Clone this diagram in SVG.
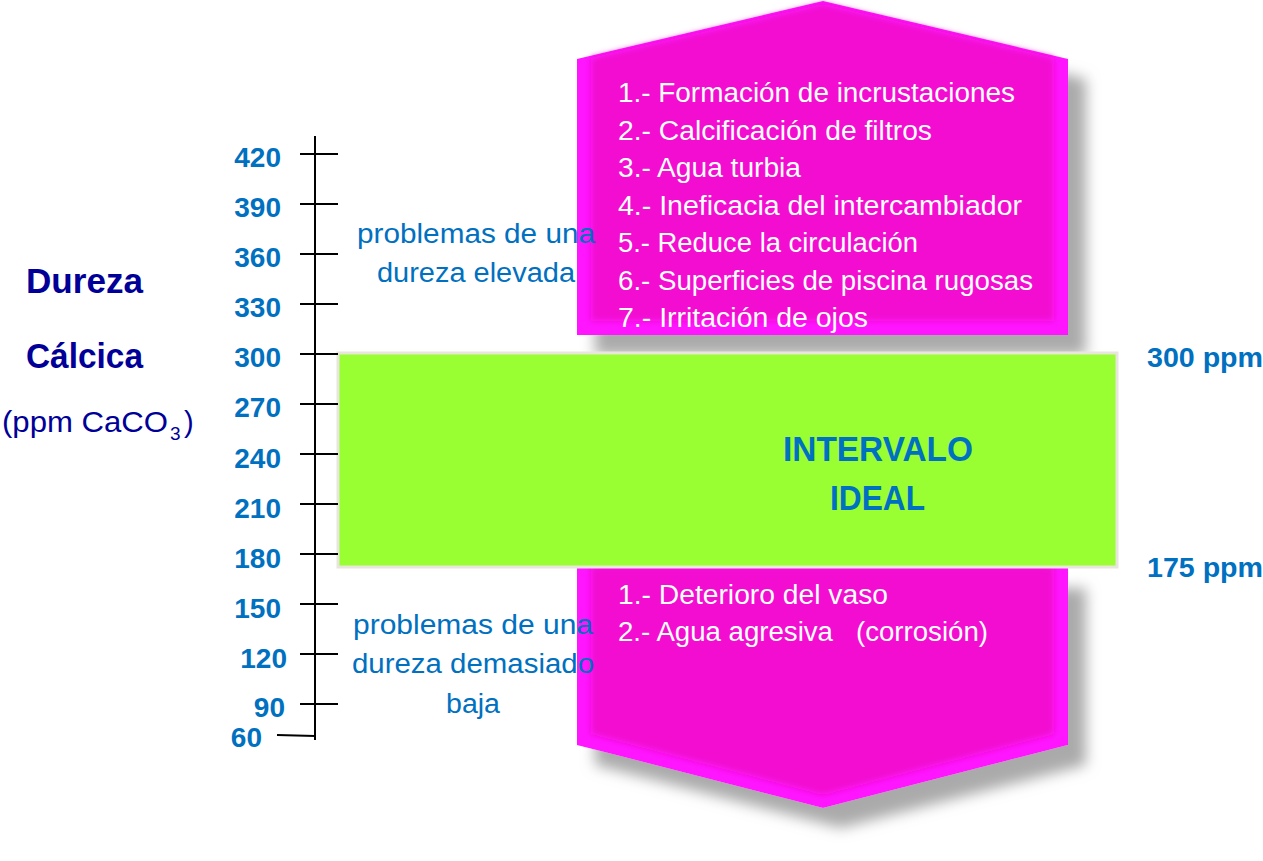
<svg xmlns="http://www.w3.org/2000/svg" width="1263" height="861" viewBox="0 0 1263 861">
<defs>
<filter id="shadow" x="-10%" y="-10%" width="130%" height="150%">
<feDropShadow dx="18" dy="20" stdDeviation="7" flood-color="#aaaaaa" flood-opacity="1"/>
</filter>
<filter id="soft" x="-5%" y="-5%" width="110%" height="110%">
<feGaussianBlur stdDeviation="3"/>
</filter>
<style>
.tick{stroke:#000;stroke-width:2;fill:none}
.num{font-family:"Liberation Sans",Arial,sans-serif;font-weight:bold;font-size:28px;fill:#0070c0;text-anchor:end}
.ppm{font-family:"Liberation Sans",Arial,sans-serif;font-weight:bold;font-size:28px;fill:#0070c0}
.title{font-family:"Liberation Sans",Arial,sans-serif;font-weight:bold;font-size:35px;fill:#000099}
.unit{font-family:"Liberation Sans",Arial,sans-serif;font-size:29px;fill:#000099}
.prob{font-family:"Liberation Sans",Arial,sans-serif;font-size:27px;fill:#0070c0}
.item{font-family:"Liberation Sans",Arial,sans-serif;font-size:27px;fill:#ffffff;white-space:pre}
.big{font-family:"Liberation Sans",Arial,sans-serif;font-weight:bold;font-size:35px;fill:#0070c0}
.bevel{fill:#ff14ff}
.face{fill:#f30fd1}
</style>
</defs>
<rect width="1263" height="861" fill="#ffffff"/>

<g id="high-block">
<g filter="url(#shadow)">
<polygon class="bevel" points="577,59 823,1 1068,59 1068,335 577,335"/>
</g>
<polygon class="face" filter="url(#soft)" points="591,58 823,4 1054,58 1054,321 591,321"/>
<text class="item" x="618" y="102" textLength="397" lengthAdjust="spacingAndGlyphs">1.- Formación de incrustaciones</text>
<text class="item" x="618" y="139.5" textLength="314" lengthAdjust="spacingAndGlyphs">2.- Calcificación de filtros</text>
<text class="item" x="618" y="177" textLength="183" lengthAdjust="spacingAndGlyphs">3.- Agua turbia</text>
<text class="item" x="618" y="214.5" textLength="404" lengthAdjust="spacingAndGlyphs">4.- Ineficacia del intercambiador</text>
<text class="item" x="618" y="252" textLength="300" lengthAdjust="spacingAndGlyphs">5.- Reduce la circulación</text>
<text class="item" x="618" y="289.5" textLength="415" lengthAdjust="spacingAndGlyphs">6.- Superficies de piscina rugosas</text>
<text class="item" x="618" y="327" textLength="250" lengthAdjust="spacingAndGlyphs">7.- Irritación de ojos</text>
</g>

<g id="low-block">
<g filter="url(#shadow)">
<polygon class="bevel" points="577,568 1068,568 1068,745 823,808 577,745"/>
</g>
<polygon class="face" filter="url(#soft)" points="591,566 1054,566 1054,734 823,795 591,734"/>
<text class="item" x="618" y="604" textLength="270" lengthAdjust="spacingAndGlyphs">1.- Deterioro del vaso</text>
<text class="item" x="618" y="641" textLength="370" lengthAdjust="spacingAndGlyphs" xml:space="preserve">2.- Agua agresiva   (corrosión)</text>
</g>

<g id="ideal-range">
<rect x="338" y="353" width="779" height="214" fill="#99ff33" stroke="#e8e5dc" stroke-width="3"/>
<text class="big" x="783" y="461" textLength="190" lengthAdjust="spacingAndGlyphs">INTERVALO</text>
<text class="big" x="830" y="510" textLength="95" lengthAdjust="spacingAndGlyphs">IDEAL</text>
</g>

<g id="axis">
<line class="tick" x1="315" y1="136" x2="315" y2="740"/>
<line class="tick" x1="300" y1="154" x2="338" y2="154"/>
<line class="tick" x1="300" y1="204" x2="338" y2="204"/>
<line class="tick" x1="300" y1="254" x2="338" y2="254"/>
<line class="tick" x1="300" y1="304" x2="338" y2="304"/>
<line class="tick" x1="300" y1="354" x2="338" y2="354"/>
<line class="tick" x1="300" y1="404" x2="338" y2="404"/>
<line class="tick" x1="300" y1="454" x2="338" y2="454"/>
<line class="tick" x1="300" y1="504" x2="338" y2="504"/>
<line class="tick" x1="300" y1="554" x2="338" y2="554"/>
<line class="tick" x1="300" y1="604" x2="338" y2="604"/>
<line class="tick" x1="300" y1="654" x2="338" y2="654"/>
<line class="tick" x1="300" y1="704" x2="338" y2="704"/>
<line class="tick" x1="277" y1="735" x2="315" y2="736"/>
<text class="num" x="281" y="167">420</text>
<text class="num" x="281" y="217">390</text>
<text class="num" x="281" y="267">360</text>
<text class="num" x="281" y="317">330</text>
<text class="num" x="281" y="367">300</text>
<text class="num" x="281" y="417">270</text>
<text class="num" x="281" y="468">240</text>
<text class="num" x="281" y="518">210</text>
<text class="num" x="281" y="568">180</text>
<text class="num" x="281" y="618">150</text>
<text class="num" x="287" y="668">120</text>
<text class="num" x="285" y="717">90</text>
<text class="num" x="262" y="747">60</text>
</g>

<g id="axis-title">
<text class="title" x="26" y="293" textLength="117" lengthAdjust="spacingAndGlyphs">Dureza</text>
<text class="title" x="26" y="368" textLength="117" lengthAdjust="spacingAndGlyphs">Cálcica</text>
<text class="unit" x="2" y="432" textLength="166" lengthAdjust="spacingAndGlyphs">(ppm CaCO</text>
<text class="unit" x="170" y="440" style="font-size:19px">3</text>
<text class="unit" x="184" y="432">)</text>
</g>

<g id="labels-high">
<text class="prob" x="357" y="243" textLength="238" lengthAdjust="spacingAndGlyphs">problemas de una</text>
<text class="prob" x="377" y="282" textLength="198" lengthAdjust="spacingAndGlyphs">dureza elevada</text>
</g>

<g id="labels-low">
<text class="prob" x="353" y="634" textLength="240" lengthAdjust="spacingAndGlyphs">problemas de una</text>
<text class="prob" x="352" y="673" textLength="242" lengthAdjust="spacingAndGlyphs">dureza demasiado</text>
<text class="prob" x="446" y="713" textLength="54" lengthAdjust="spacingAndGlyphs">baja</text>
</g>

<g id="limits">
<text class="ppm" x="1147" y="367" textLength="116" lengthAdjust="spacingAndGlyphs">300 ppm</text>
<text class="ppm" x="1147" y="577" textLength="116" lengthAdjust="spacingAndGlyphs">175 ppm</text>
</g>
</svg>
